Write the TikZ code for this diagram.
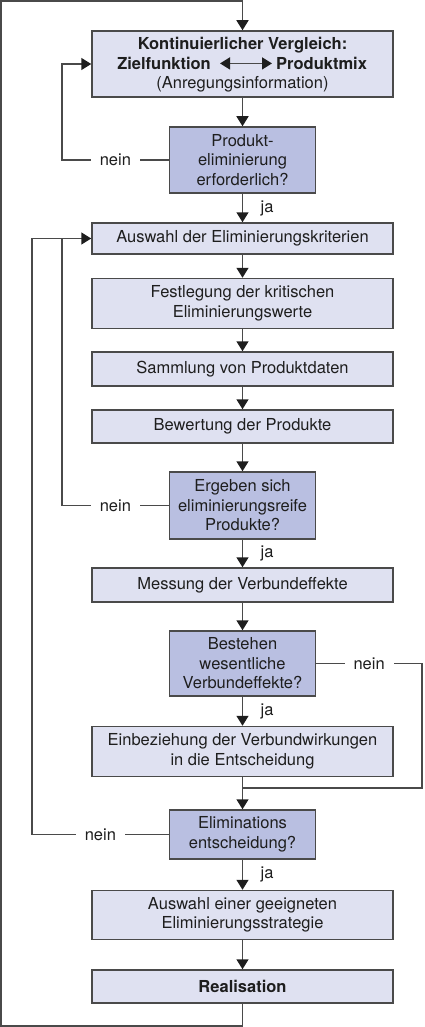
\documentclass[tikz,border=0pt]{standalone}
\usepackage{fontspec}
\setmainfont{TeX Gyre Heros}
\usetikzlibrary{arrows.meta,positioning,calc}
\definecolor{boxfill}{HTML}{DFE1F1}
\definecolor{askfill}{HTML}{B9BFE1}
\definecolor{edge}{HTML}{4A4A4A}
\definecolor{ink}{HTML}{1E1E1E}

\begin{document}
\begin{tikzpicture}[x=1pt, y=-1pt,
        every node/.style={font=\fontsize{16.5}{19.5}\selectfont, text=ink},
        stepbox/.style={draw=edge, line width=1.5pt, fill=boxfill, minimum width=301pt, align=center, inner sep=0pt},
        askbox/.style={draw=edge, line width=1.5pt, fill=askfill, minimum width=146pt, align=center, inner sep=0pt},
        flow/.style={line width=1.5pt, draw=edge, -{Triangle[length=10pt, width=12pt, color=ink]}},
        back/.style={line width=1.5pt, draw=edge},
        nein/.style={fill=white, inner sep=9pt},
        ja/.style={anchor=west, xshift=14pt}]
    \useasboundingbox (0,0) rectangle (424,1027);

    % main column
    \node[stepbox, minimum height=66pt] (vergleich) at (242.5,64) {};
    \node[anchor=base] (titel) at (242.5,50) {\bfseries Kontinuierlicher Vergleich:};
    \node[anchor=base east, inner sep=0pt] (ziel) at (211,69.5) {\bfseries Zielfunktion};
    \node[anchor=base west, inner sep=0pt] (mix) at (276,69.5) {\bfseries Produktmix};
    \node[anchor=base] (anregung) at (242.5,89) {(Anregungsinformation)};
    \draw[line width=1.5pt, draw=edge, {Triangle[length=10pt, width=12pt, color=ink]}-{Triangle[length=10pt, width=12pt, color=ink]}] ([xshift=9pt]ziel.east) -- ([xshift=-4pt]mix.west);

    \node[askbox, minimum height=66pt] (erforderlich) at (242.5,160) {Produkt-\\eliminierung\\erforderlich?};
    \node[stepbox, minimum height=31pt] (kriterien) at (242.5,238.5) {Auswahl der Eliminierungskriterien};
    \node[stepbox, minimum height=50pt] (festlegung) at (242.5,303.5) {Festlegung der kritischen\\Eliminierungswerte};
    \node[stepbox, minimum height=34pt] (sammlung) at (242.5,369) {Sammlung von Produktdaten};
    \node[stepbox, minimum height=33pt] (bewertung) at (242.5,426.5) {Bewertung der Produkte};
    \node[askbox, minimum height=67pt] (ergeben) at (242.5,505.5) {Ergeben sich\\eliminierungsreife\\Produkte?};
    \node[stepbox, minimum height=34pt] (messung) at (242.5,585) {Messung der Verbundeffekte};
    \node[askbox, minimum height=65pt] (verbund) at (242.5,663.5) {Bestehen\\wesentliche\\Verbundeffekte?};
    \node[stepbox, minimum height=50pt] (einbeziehung) at (242.5,751.5) {Einbeziehung der Verbundwirkungen\\in die Entscheidung};
    \node[askbox, minimum height=49pt] (entscheidung) at (242.5,834.5) {Eliminations\\entscheidung?};
    \node[stepbox, minimum height=49pt] (strategie) at (242.5,915) {Auswahl einer geeigneten\\Eliminierungsstrategie};
    \node[stepbox, minimum height=33pt] (realisation) at (242.5,986.5) {\bfseries Realisation};

    % helper coordinates for the loops
    \coordinate (spur a) at (62,0);
    \coordinate (spur b) at (32,0);
    \coordinate (spur c) at (422,0);
    \coordinate (zusammen) at (242.5,788);
    \coordinate (ecke unten) at (1,1026);
    \coordinate (ecke oben) at (1,1);

    \foreach \a/\b in {vergleich/erforderlich, kriterien/festlegung, festlegung/sammlung, sammlung/bewertung, bewertung/ergeben, messung/verbund, einbeziehung/entscheidung, strategie/realisation}
        \draw[flow] (\a) -- (\b);
    \foreach \a/\b in {erforderlich/kriterien, ergeben/messung, verbund/einbeziehung, entscheidung/strategie}
        \draw[flow] (\a) -- node[ja] {ja} (\b);

    % feedback loops
    \draw[flow] (erforderlich.west) -- node[nein] {nein} (erforderlich.west -| spur a) |- (vergleich.west);
    \draw[flow] (ergeben.west) -- node[nein] {nein} (ergeben.west -| spur a) |- (kriterien.west);
    \draw[back] (entscheidung.west) -- node[nein] {nein} (entscheidung.west -| spur b) |- (kriterien.west -| spur a);
    \draw[back] (verbund.east) -- node[nein] {nein} (verbund.east -| spur c) |- (zusammen);
    \draw[flow] (realisation) |- (ecke unten) -- (ecke oben) -| (vergleich);
\end{tikzpicture}
\end{document}
